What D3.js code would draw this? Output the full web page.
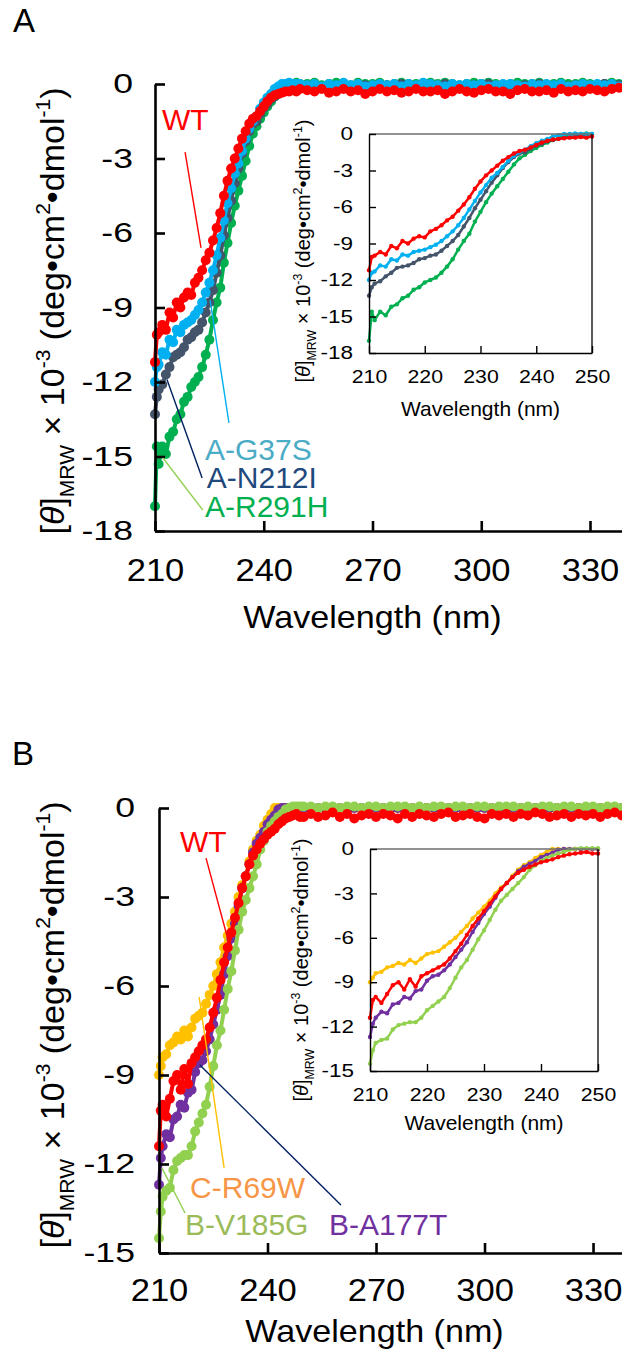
<!DOCTYPE html>
<html>
<head>
<meta charset="utf-8">
<script src="https://cdn.jsdelivr.net/npm/d3@7"></script>
<style>
  html, body { margin: 0; padding: 0; background: #fff; }
  svg { display: block; font-family: Arial, "Liberation Sans", sans-serif; }
</style>
</head>
<body>
<svg id="fig" width="622" height="1355"></svg>
<script>
// ---- wavelength grid (nm): fine steps in the far-UV band, 2 nm steps above 250 nm
const wavelengths = [210, 210.5].concat(d3.range(211, 251), d3.range(252, 341, 2));

// ---- Panel A: mean residue ellipticity (x10^-3 deg cm2 dmol-1)
const wtA = [
  -11.2, -10.1,
  -10.0, -9.7, -9.9, -9.2, -9.4, -8.8, -9.0, -8.6, -8.4, -8.5,
  -8.0, -7.8, -7.5, -7.1, -6.8, -6.3, -5.8, -5.2, -4.5, -3.9,
  -3.4, -3.0, -2.6, -2.2, -1.9, -1.6, -1.4, -1.3, -1.1, -0.9,
  -0.7, -0.55, -0.45, -0.4, -0.35, -0.3, -0.3, -0.25, -0.3, -0.2,
  -0.25, -0.3, -0.2, -0.35, -0.3, -0.2, -0.3, -0.25, -0.4, -0.3,
  -0.2, -0.3, -0.25, -0.35, -0.3, -0.2, -0.3, -0.3, -0.25, -0.4,
  -0.3, -0.2, -0.3, -0.35, -0.25, -0.2, -0.3, -0.3, -0.4, -0.25,
  -0.2, -0.3, -0.3, -0.25, -0.35, -0.2, -0.3, -0.25, -0.3, -0.2,
  -0.25, -0.3, -0.2, -0.15, -0.2
];
const g37sA = [
  -12.0, -11.4,
  -11.3, -10.8, -10.9, -10.3, -10.4, -9.9, -10.0, -9.7, -9.6, -9.5,
  -9.3, -9.1, -8.8, -8.4, -8.0, -7.5, -6.9, -6.2, -5.5, -4.8,
  -4.2, -3.6, -3.2, -2.7, -2.2, -1.8, -1.5, -1.3, -1.0, -0.75,
  -0.55, -0.4, -0.2, -0.1, 0.0, 0.0, 0.05, 0.0, 0.0, 0.0,
  -0.05, 0.0, -0.1, 0.0, -0.05, 0.05, -0.05, 0.0, -0.1, -0.05,
  0.0, -0.05, 0.0, -0.1, 0.0, -0.05, 0.05, 0.0, -0.05, -0.1,
  0.0, -0.05, 0.0, -0.05, 0.0, -0.1, -0.05, 0.0, 0.0, -0.05,
  -0.1, 0.0, -0.05, 0.0, -0.05, 0.0, -0.1, -0.05, 0.0, -0.05,
  0.0, -0.05, 0.0, -0.1, 0.0
];
const n212iA = [
  -13.3, -12.6,
  -12.3, -12.1, -11.7, -11.4, -11.0, -10.9, -10.8, -10.6, -10.3, -10.2,
  -10.0, -9.9, -9.6, -9.2, -8.8, -8.3, -7.6, -6.9, -6.1, -5.4,
  -4.7, -4.0, -3.4, -2.8, -2.3, -1.9, -1.6, -1.5, -1.2, -0.95,
  -0.8, -0.6, -0.5, -0.4, -0.3, -0.25, -0.2, -0.15, -0.1, -0.05,
  -0.1, -0.05, -0.15, -0.05, -0.1, 0.0, -0.15, -0.1, -0.05, -0.1,
  -0.15, -0.05, -0.1, 0.0, -0.1, -0.15, -0.05, -0.1, -0.1, 0.0,
  -0.05, -0.15, -0.1, -0.05, -0.1, 0.0, -0.1, -0.15, -0.05, -0.1,
  -0.05, -0.1, 0.0, -0.15, -0.1, -0.05, -0.1, -0.05, -0.15, -0.1,
  -0.05, 0.0, -0.1, -0.05, -0.1
];
const r291hA = [
  -17.0, -14.6,
  -15.3, -14.6, -14.9, -14.2, -14.0, -13.5, -13.3, -12.8, -12.6, -12.2,
  -12.0, -11.8, -11.4, -10.9, -10.3, -9.5, -8.8, -8.2, -7.2, -6.4,
  -5.6, -4.9, -4.3, -3.7, -3.1, -2.5, -2.0, -1.7, -1.4, -1.15,
  -0.9, -0.7, -0.5, -0.35, -0.15, -0.05, 0.0, 0.0, 0.05, 0.0,
  0.0, 0.05, -0.05, 0.0, 0.05, 0.0, -0.05, 0.05, 0.0, 0.0,
  0.05, -0.05, 0.0, 0.05, 0.0, 0.0, -0.05, 0.05, 0.0, 0.05,
  0.0, -0.05, 0.0, 0.05, 0.0, 0.05, 0.0, -0.05, 0.0, 0.05,
  0.0, 0.0, 0.05, -0.05, 0.0, 0.05, 0.0, 0.0, 0.05, 0.0,
  -0.05, 0.0, 0.05, 0.0, 0.0
];

// ---- Panel B
const wtB = [
  -11.4, -10.2,
  -10.0, -10.4, -9.8, -9.2, -9.0, -9.5, -8.8, -9.3, -8.6, -8.4,
  -8.2, -8.0, -7.8, -7.4, -6.9, -6.4, -5.8, -5.2, -4.7, -4.2,
  -3.7, -3.2, -2.7, -2.3, -1.9, -1.6, -1.4, -1.2, -1.05, -0.9,
  -0.8, -0.7, -0.55, -0.45, -0.35, -0.3, -0.25, -0.2, -0.3, -0.3,
  -0.2, -0.3, -0.25, -0.15, -0.3, -0.2, -0.35, -0.25, -0.2, -0.3,
  -0.2, -0.25, -0.35, -0.2, -0.3, -0.2, -0.25, -0.3, -0.2, -0.15,
  -0.3, -0.25, -0.2, -0.3, -0.35, -0.2, -0.25, -0.2, -0.3, -0.2,
  -0.25, -0.15, -0.2, -0.3, -0.25, -0.2, -0.3, -0.2, -0.25, -0.2,
  -0.3, -0.2, -0.15, -0.25, -0.2
];
const r69wB = [
  -9.0, -8.7,
  -8.4, -8.3, -8.0, -7.9, -7.7, -7.8, -7.5, -7.7, -7.4, -7.1,
  -7.0, -6.9, -6.6, -6.3, -6.0, -5.6, -5.2, -4.7, -4.3, -3.9,
  -3.5, -3.0, -2.6, -2.3, -1.8, -1.4, -1.1, -0.9, -0.6, -0.4,
  -0.2, 0.0, 0.0, 0.0, 0.0, 0.0, 0.0, 0.0, 0.0, 0.0,
  0.0, 0.0, 0.0, 0.0, 0.0, 0.0, 0.0, 0.0, 0.0, 0.0,
  0.0, 0.0, 0.0, 0.0, 0.0, 0.0, 0.0, 0.0, 0.0, 0.0,
  0.0, 0.0, 0.0, 0.0, 0.0, 0.0, 0.0, 0.0, 0.0, 0.0,
  0.0, 0.0, 0.0, 0.0, 0.0, 0.0, 0.0, 0.0, 0.0, 0.0,
  0.0, 0.0, 0.0, 0.0, 0.0
];
const a177tB = [
  -12.7, -11.8,
  -11.4, -11.0, -11.1, -10.5, -10.4, -10.0, -10.1, -9.6, -9.5, -8.9,
  -8.6, -8.5, -8.2, -7.8, -7.3, -6.8, -6.3, -5.6, -5.0, -4.4,
  -3.9, -3.3, -2.7, -2.3, -1.9, -1.5, -1.2, -1.0, -0.8, -0.55,
  -0.4, -0.25, -0.05, 0.0, 0.0, 0.0, 0.0, 0.0, 0.0, 0.0,
  0.0, 0.0, 0.0, 0.0, 0.0, 0.0, 0.0, 0.0, 0.0, 0.0,
  0.0, 0.0, 0.0, 0.0, 0.0, 0.0, 0.0, 0.0, 0.0, 0.0,
  0.0, 0.0, 0.0, 0.0, 0.0, 0.0, 0.0, 0.0, 0.0, 0.0,
  0.0, 0.0, 0.0, 0.0, 0.0, 0.0, 0.0, 0.0, 0.0, 0.0,
  0.0, 0.0, 0.0, 0.0, 0.0
];
const v185gB = [
  -14.5, -13.6,
  -13.1, -12.9, -12.8, -12.2, -11.9, -11.8, -11.7, -11.7, -11.4, -10.9,
  -10.6, -10.3, -10.0, -9.4, -8.7, -8.0, -7.5, -6.8, -6.1, -5.5,
  -4.8, -4.1, -3.5, -3.1, -2.7, -2.3, -1.9, -1.4, -1.1, -0.8,
  -0.6, -0.45, -0.3, -0.2, -0.05, 0.0, 0.05, 0.05, 0.05, 0.05,
  0.05, 0.0, 0.05, 0.05, 0.0, 0.05, 0.05, 0.0, 0.05, 0.05,
  0.0, 0.05, 0.05, 0.05, 0.0, 0.05, 0.0, 0.05, 0.05, 0.0,
  0.05, 0.05, 0.0, 0.05, 0.05, 0.0, 0.05, 0.05, 0.05, 0.0,
  0.05, 0.0, 0.05, 0.05, 0.0, 0.05, 0.05, 0.0, 0.05, 0.05,
  0.0, 0.05, 0.05, 0.0, 0.05
];

// ---- axis ticks
const xTicksMain = [210, 240, 270, 300, 330];
const xTicksInset = [210, 220, 230, 240, 250];
const yTicksA = [0, -3, -6, -9, -12, -15, -18];
const yTicksB = [0, -3, -6, -9, -12, -15];

// ---- series definitions (drawing order: last on top)
const seriesA = [
  { name: "A-R291H", values: r291hA, color: "#00B050" },
  { name: "A-N212I", values: n212iA, color: "#44546A" },
  { name: "A-G37S",  values: g37sA,  color: "#00B0F0" },
  { name: "WT",      values: wtA,    color: "#FF0000" }
];
const seriesB = [
  { name: "C-R69W",  values: r69wB,  color: "#FFC000" },
  { name: "B-A177T", values: a177tB, color: "#7030A0" },
  { name: "B-V185G", values: v185gB, color: "#92D050" },
  { name: "WT",      values: wtB,    color: "#FF0000" }
];

// ---- callout labels with leader lines (data coordinates of the main plots)
const labelsA = [
  { text: "WT",      fill: "#FF0000", stroke: "#FF0000", at: [211.9, -1.85],  from: [218.3, -2.74], to: [222.7, -6.6] },
  { text: "A-G37S",  fill: "#4BACC6", stroke: "#00B0F0", at: [223.8, -15.14], from: [225.2, -8.7],  to: [230.4, -13.65] },
  { text: "A-N212I", fill: "#1F497D", stroke: "#002060", at: [224.3, -16.27], from: [213.3, -11.9], to: [223.0, -15.87] },
  { text: "A-R291H", fill: "#00B050", stroke: "#92D050", at: [223.8, -17.44], from: [212.2, -15.06], to: [223.2, -17.16] }
];
const labelsB = [
  { text: "WT",      fill: "#FF0000", stroke: "#FF0000", at: [215.8, -1.48],  from: [223.0, -1.69], to: [229.1, -4.45] },
  { text: "C-R69W",  fill: "#F79646", stroke: "#FFC000", at: [218.6, -13.14], from: [221.1, -6.37], to: [228.0, -12.13] },
  { text: "B-V185G", fill: "#9BBB59", stroke: "#92D050", at: [217.2, -14.39], from: [210.8, -12.13], to: [217.2, -13.65] },
  { text: "B-A177T", fill: "#7030A0", stroke: "#002060", at: [257.0, -14.39], from: [221.3, -8.66], to: [260.3, -13.38] }
];

const svg = d3.select("#fig");

// y-axis title with sub/superscripts, rotated
function yTitle(g, x, y, size) {
  const t = g.append("text")
    .attr("transform", `translate(${x},${y}) rotate(-90)`)
    .attr("text-anchor", "middle")
    .attr("font-size", size)
    .attr("fill", "#000");
  const small = size * 0.62;
  const parts = [
    ["[", 0, size, false],
    ["\u03B8", 0, size, true],
    ["]", 0, size, false],
    ["MRW", 0.28, small, false],
    [" \u00D7 10", 0, size, false],
    ["-3", -0.42, small, false],
    [" (deg\u2022cm", 0, size, false],
    ["2", -0.42, small, false],
    ["\u2022dmol", 0, size, false],
    ["-1", -0.42, small, false],
    [")", 0, size, false]
  ];
  let cur = 0;
  parts.forEach(([s, shift, fs, it]) => {
    const target = shift * size;
    t.append("tspan")
      .attr("dy", target - cur)
      .attr("font-size", fs)
      .attr("font-style", it ? "italic" : null)
      .text(s);
    cur = target;
  });
}

function stretchTicks(sel, sx) {
  sel.selectAll(".tick text").each(function () {
    const t = d3.select(this);
    const x0 = +t.attr("x") || 0;
    t.attr("x", x0 / sx).attr("transform", `scale(${sx},1)`);
  });
}

function drawCurves(g, x, y, series, r, lw) {
  const [lo, hi] = x.domain();
  const line = d3.line().x(d => x(d[0])).y(d => y(d[1]));
  series.forEach(s => {
    const pts = wavelengths.map((w, i) => [w, s.values[i]]).filter(d => d[0] >= lo && d[0] <= hi);
    const gs = g.append("g");
    gs.append("path")
      .attr("d", line(pts))
      .attr("fill", "none")
      .attr("stroke", s.color)
      .attr("stroke-width", lw)
      .attr("stroke-linejoin", "round");
    gs.selectAll("circle").data(pts).join("circle")
      .attr("cx", d => x(d[0]))
      .attr("cy", d => y(d[1]))
      .attr("r", r)
      .attr("fill", s.color);
  });
}

function mainPlot(cfg) {
  const g = svg.append("g");
  const x = d3.scaleLinear().domain([210, 340]).range(cfg.xr);
  const y = d3.scaleLinear().domain([cfg.ymin, 0]).range(cfg.yr);

  drawCurves(g, x, y, cfg.series, 5, 4);

  const ya = g.append("g").attr("transform", `translate(${cfg.xr[0]},0)`)
    .call(d3.axisLeft(y).tickValues(cfg.yTicks).tickSize(-10).tickSizeOuter(0)
      .tickPadding(cfg.yPad).tickFormat(d => String(d)));
  const xa = g.append("g").attr("transform", `translate(0,${cfg.yr[0]})`)
    .call(d3.axisBottom(x).tickValues(xTicksMain).tickSize(-10).tickSizeOuter(0)
      .tickPadding(cfg.xPad).tickFormat(d => String(d)));
  [ya, xa].forEach(a => {
    a.attr("font-family", "Arial, 'Liberation Sans', sans-serif");
    a.select(".domain").attr("stroke", "#000").attr("stroke-width", 2.6);
    a.selectAll(".tick line").attr("stroke", "#000").attr("stroke-width", 2.6);
    a.selectAll(".tick text").attr("fill", "#000");
  });
  ya.attr("font-size", 27);
  xa.attr("font-size", 32);
  stretchTicks(ya, 1.32);
  stretchTicks(xa, 1.08);

  g.append("text")
    .attr("transform", `translate(${(cfg.xr[0] + 590) / 2},${cfg.xTitleY}) scale(1.1,1)`)
    .attr("text-anchor", "middle")
    .attr("font-size", 31)
    .text("Wavelength (nm)");

  yTitle(g, cfg.yTitleX, cfg.yTitleY, 34);

  // callouts
  cfg.labels.forEach(l => {
    g.append("line")
      .attr("x1", x(l.from[0])).attr("y1", y(l.from[1]))
      .attr("x2", x(l.to[0])).attr("y2", y(l.to[1]))
      .attr("stroke", l.stroke).attr("stroke-width", 1.4);
    g.append("text")
      .attr("x", x(l.at[0])).attr("y", y(l.at[1]))
      .attr("font-size", 30)
      .attr("fill", l.fill)
      .text(l.text);
  });

  g.append("text").attr("x", cfg.letter[0]).attr("y", cfg.letter[1])
    .attr("font-size", 33).text(cfg.letterText);
}

function insetPlot(cfg) {
  const g = svg.append("g");
  const x = d3.scaleLinear().domain([210, 250]).range(cfg.xr);
  const y = d3.scaleLinear().domain([cfg.ymin, 0]).range(cfg.yr);

  g.append("rect")
    .attr("x", cfg.xr[0]).attr("y", cfg.yr[1])
    .attr("width", cfg.xr[1] - cfg.xr[0]).attr("height", cfg.yr[0] - cfg.yr[1])
    .attr("fill", "#fff");

  drawCurves(g, x, y, cfg.series, 2.2, 2.5);

  // frame: top edge lighter, right edge dark
  g.append("line").attr("x1", cfg.xr[0]).attr("x2", cfg.xr[1]).attr("y1", cfg.yr[1]).attr("y2", cfg.yr[1])
    .attr("stroke", "#6e6e6e").attr("stroke-width", 1.3);
  g.append("line").attr("x1", cfg.xr[1]).attr("x2", cfg.xr[1]).attr("y1", cfg.yr[1]).attr("y2", cfg.yr[0])
    .attr("stroke", "#000").attr("stroke-width", 1.3);

  const ya = g.append("g").attr("transform", `translate(${cfg.xr[0]},0)`)
    .call(d3.axisLeft(y).tickValues(cfg.yTicks).tickSize(-7).tickSizeOuter(0)
      .tickPadding(16).tickFormat(d => String(d)));
  const xa = g.append("g").attr("transform", `translate(0,${cfg.yr[0]})`)
    .call(d3.axisBottom(x).tickValues(xTicksInset).tickSize(-7).tickSizeOuter(0)
      .tickPadding(cfg.xPad).tickFormat(d => String(d)));
  [ya, xa].forEach(a => {
    a.attr("font-family", "Arial, 'Liberation Sans', sans-serif");
    a.select(".domain").attr("stroke", "#000").attr("stroke-width", 1.4);
    a.selectAll(".tick line").attr("stroke", "#000").attr("stroke-width", 1.4);
    a.selectAll(".tick text").attr("fill", "#000");
  });
  ya.attr("font-size", 18);
  xa.attr("font-size", 19);
  stretchTicks(ya, 1.25);
  stretchTicks(xa, 1.12);

  g.append("text")
    .attr("x", (cfg.xr[0] + cfg.xr[1]) / 2).attr("y", cfg.xTitleY)
    .attr("text-anchor", "middle")
    .attr("font-size", 21)
    .text("Wavelength (nm)");

  yTitle(g, cfg.yTitleX, cfg.yTitleY, 20);
}

// ---- Panel A
mainPlot({
  series: seriesA, labels: labelsA, ymin: -18, yTicks: yTicksA,
  xr: [155, 626.25], yr: [531, 84], yPad: 22, xPad: 27,
  xTitleY: 628, yTitleX: 64, yTitleY: 311,
  letter: [13, 32], letterText: "A"
});
insetPlot({
  series: seriesA, ymin: -18, yTicks: yTicksA,
  xr: [369, 592], yr: [353, 134], xPad: 17,
  xTitleY: 416, yTitleX: 310, yTitleY: 251
});

// ---- Panel B
mainPlot({
  series: seriesB, labels: labelsB, ymin: -15, yTicks: yTicksB,
  xr: [159, 629.2], yr: [1253, 808], yPad: 24, xPad: 25,
  xTitleY: 1342, yTitleX: 64, yTitleY: 1025,
  letter: [12, 765], letterText: "B"
});
insetPlot({
  series: seriesB, ymin: -15, yTicks: yTicksB,
  xr: [370, 598], yr: [1071, 849], xPad: 17,
  xTitleY: 1130, yTitleX: 308, yTitleY: 970
});
</script>
</body>
</html>
